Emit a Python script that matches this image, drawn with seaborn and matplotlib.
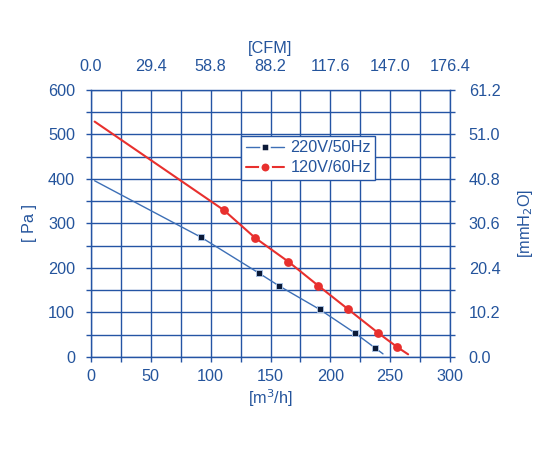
import numpy as np
import pandas as pd
import matplotlib
matplotlib.use("Agg")
import matplotlib.pyplot as plt
from matplotlib.lines import Line2D
from matplotlib.ticker import MultipleLocator
import seaborn as sns

# measured points (airflow m3/h, static pressure Pa)
flow_220 = [92, 140, 157, 191, 221, 237]
pres_220 = [269, 189, 160, 107, 53, 21]
flow_120 = [111, 137, 165, 190, 215, 240, 256]
pres_120 = [330, 268, 214, 160, 107, 54, 22]

# curve start / end points
start_220 = (3, 396)
end_220 = (244, 7)
start_120 = (3, 529)
end_120 = (265, 6)

cfm_ticks = [0.0, 29.4, 58.8, 88.2, 117.6, 147.0, 176.4]
mmh2o_ticks = [0.0, 10.2, 20.4, 30.6, 40.8, 51.0, 61.2]
labels = ["220V/50Hz", "120V/60Hz"]

curve_220 = pd.DataFrame({
    "flow": [start_220[0]] + flow_220 + [end_220[0]],
    "pres": [start_220[1]] + pres_220 + [end_220[1]],
})
curve_120 = pd.DataFrame({
    "flow": [start_120[0]] + flow_120 + [end_120[0]],
    "pres": [start_120[1]] + pres_120 + [end_120[1]],
})

sns.set_style("white")
plt.rcParams["font.family"] = ["Liberation Sans", "DejaVu Sans"]

fs = 11.7
txt = "#24549c"
grid_c = "#2454a4"
blue_line = "#3d6fb6"
sq_c = "#0b1a38"
red = "#e8302e"

fig = plt.figure(figsize=(5.5, 4.5), dpi=100)
ax = fig.add_axes([0.1655, 0.2067, 0.6527, 0.5933])

sns.lineplot(data=curve_220, x="flow", y="pres", ax=ax, color=blue_line, lw=1.0,
             sort=False, estimator=None)
sns.lineplot(data=curve_120, x="flow", y="pres", ax=ax, color=red, lw=1.5,
             sort=False, estimator=None)
sns.scatterplot(x=flow_220, y=pres_220, ax=ax, marker="s", s=20, color=sq_c,
                edgecolor="#a8c0e2", linewidth=0.7, zorder=5)
sns.scatterplot(x=flow_120, y=pres_120, ax=ax, marker="o", s=40, color=red,
                edgecolor=red, linewidth=0, zorder=5)

ax.set_xlim(0, 300)
ax.set_ylim(0, 600)
ax.xaxis.set_major_locator(MultipleLocator(50))
ax.xaxis.set_minor_locator(MultipleLocator(25))
ax.yaxis.set_major_locator(MultipleLocator(100))
ax.yaxis.set_minor_locator(MultipleLocator(50))
ax.grid(True, which="both", color=grid_c, lw=1.0)
ax.set_axisbelow(True)
for s in ax.spines.values():
    s.set_color(grid_c)
    s.set_linewidth(1.0)

ax.tick_params(which="both", direction="out", length=3.5, width=1, color=grid_c,
               labelcolor=txt, labelsize=fs, bottom=True, left=True, right=True)
ax.tick_params(axis="y", which="major", pad=8)
ax.tick_params(axis="x", which="major", pad=5.5)
ax.set_xlabel("[m$^3$/h]", color=txt, fontsize=fs, labelpad=2)
ax.set_ylabel("[ Pa ]", color=txt, fontsize=fs, labelpad=8)

top = ax.secondary_xaxis("top", functions=(lambda x: x * 0.588, lambda x: x / 0.588))
top.set_xticks(cfm_ticks)
top.set_xticklabels([f"{v:.1f}" for v in cfm_ticks])
top.tick_params(length=0, labelcolor=txt, labelsize=fs, pad=11.5)
top.spines["top"].set_visible(False)
top.set_xlabel("[CFM]", color=txt, fontsize=fs, labelpad=4)

right = ax.secondary_yaxis("right", functions=(lambda y: y * 0.102, lambda y: y / 0.102))
right.set_yticks(mmh2o_ticks)
right.set_yticklabels([f"{v:.1f}" for v in mmh2o_ticks])
right.tick_params(length=0, labelcolor=txt, labelsize=fs, pad=13.5)
right.spines["right"].set_visible(False)
right.set_ylabel("[mmH$_2$O]", color=txt, fontsize=fs, labelpad=11)

handles = [
    Line2D([], [], color=blue_line, lw=1.0, marker="s", markersize=5.5,
           markerfacecolor=sq_c, markeredgecolor="white", markeredgewidth=1.8),
    Line2D([], [], color=red, lw=1.5, marker="o", markersize=7.5,
           markerfacecolor=red, markeredgecolor="white", markeredgewidth=1.8),
]
leg = ax.legend(handles, labels, loc="upper left", bbox_to_anchor=(0.418, 0.828),
                frameon=True, fancybox=False, fontsize=fs, handlelength=2.35,
                handletextpad=0.4, borderpad=0.28, labelspacing=0.3,
                labelcolor=txt, borderaxespad=0)
leg.get_frame().set_edgecolor(grid_c)
leg.get_frame().set_linewidth(1.0)
leg.get_frame().set_facecolor("white")
leg.get_frame().set_alpha(1)

fig.savefig("out.png", dpi=100)
